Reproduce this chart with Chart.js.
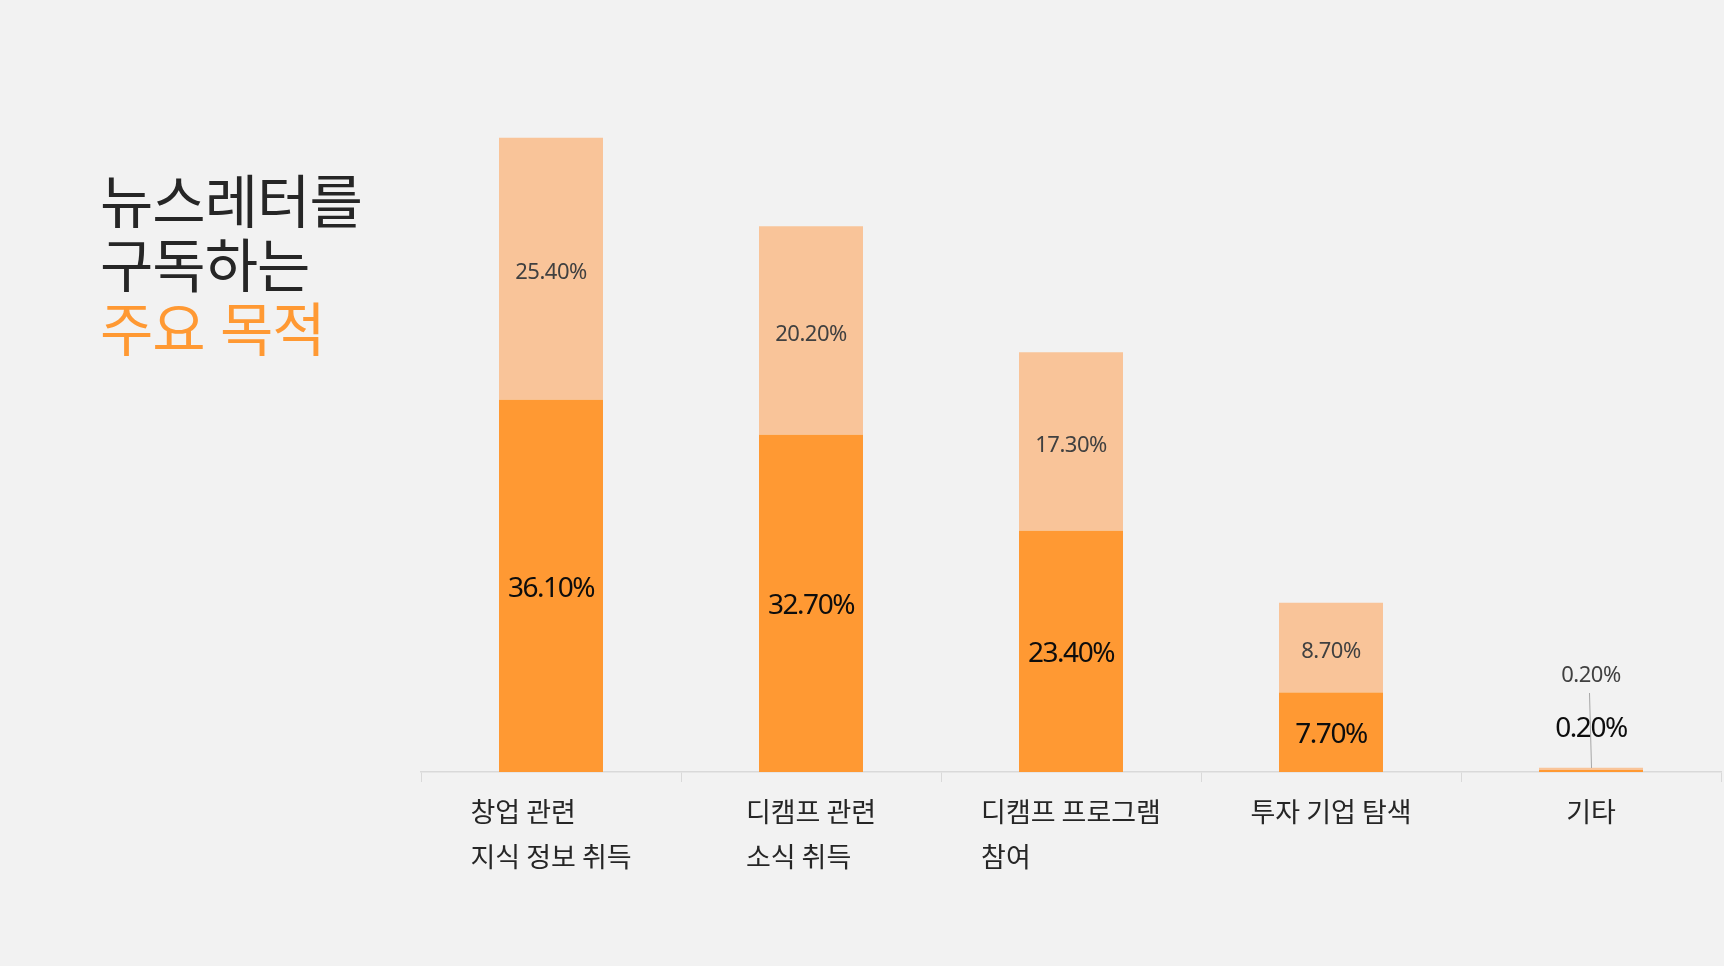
<!DOCTYPE html>
<html lang="ko">
<head>
<meta charset="utf-8">
<title>뉴스레터를 구독하는 주요 목적</title>
<script src="https://cdn.jsdelivr.net/npm/chart.js@4.4.1/dist/chart.umd.min.js"></script>
<style>
    html, body {
        margin: 0;
        padding: 0;
        background: #f2f2f2;
        overflow: hidden;
    }
    #wrap {
        position: absolute;
        left: 0;
        top: 0;
        width: 1724px;
        height: 966px;
    }
    #title {
        position: absolute;
        left: 100px;
        top: 166px;
        font-family: "Noto Sans CJK KR", sans-serif;
        font-size: 58px;
        line-height: 64px;
        letter-spacing: -1px;
        color: #262626;
        z-index: 2;
    }
    #title .accent {
        color: #ff9933;
    }
</style>
</head>
<body>
<div id="wrap">
    <canvas id="purposeChart"></canvas>
</div>
<div id="title">뉴스레터를<br>구독하는<br><span class="accent">주요 목적</span></div>

<script>
// Данные графика
const categories = [
    ['창업 관련', '지식 정보 취득'],
    ['디캠프 관련', '소식 취득'],
    ['디캠프 프로그램', '참여'],
    ['투자 기업 탐색'],
    ['기타']
];
const firstValues = [36.1, 32.7, 23.4, 7.7, 0.2];
const secondValues = [25.4, 20.2, 17.3, 8.7, 0.2];
const seriesNames = ['1순위', '2순위'];

const DARK = '#ff9933';
const LIGHT = '#f9c499';

// Подписи значений внутри/над столбцами
const valueLabels = {
    id: 'valueLabels',
    afterDatasetsDraw(chart) {
        const ctx = chart.ctx;
        const metas = [chart.getDatasetMeta(0), chart.getDatasetMeta(1)];
        const base = chart.scales.y.getPixelForValue(0);

        ctx.save();
        ctx.textAlign = 'center';
        ctx.textBaseline = 'middle';

        metas.forEach((meta, di) => {
            const values = chart.data.datasets[di].data;
            meta.data.forEach((bar, i) => {
                const h = Math.abs(bar.base - bar.y);
                const text = values[i].toFixed(2) + '%';
                let y = (bar.y + bar.base) / 2 + (di === 0 ? 3 : 4);

                // слишком маленький столбец - подпись выносим наверх
                if (h < 30) {
                    y = di === 0 ? base - 43 : base - 96;
                    if (di === 1) {
                        ctx.strokeStyle = '#a6a6a6';
                        ctx.lineWidth = 1;
                        ctx.beginPath();
                        ctx.moveTo(bar.x - 1.5, base - 79);
                        ctx.lineTo(bar.x + 0.5, base - 4);
                        ctx.stroke();
                    }
                }

                if (di === 0) {
                    ctx.font = '28px "Noto Sans", sans-serif';
                    ctx.letterSpacing = '-1.5px';
                    ctx.fillStyle = '#0d0d0d';
                } else {
                    ctx.font = '22px "Noto Sans", sans-serif';
                    ctx.letterSpacing = '-0.5px';
                    ctx.fillStyle = '#404040';
                }
                ctx.fillText(text, bar.x, y);
            });
        });
        ctx.restore();
    }
};

// Подписи категорий: блок по центру, строки выровнены влево
const categoryLabels = {
    id: 'categoryLabels',
    afterDraw(chart) {
        const ctx = chart.ctx;
        const xScale = chart.scales.x;
        ctx.save();
        ctx.font = '27px "Noto Sans CJK KR", sans-serif';
        ctx.fillStyle = '#262626';
        ctx.textAlign = 'left';
        ctx.textBaseline = 'middle';

        categories.forEach((lines, i) => {
            const cx = xScale.getPixelForValue(i);
            const maxW = Math.max(...lines.map(l => ctx.measureText(l).width));
            const left = cx - maxW / 2;
            lines.forEach((line, li) => {
                ctx.fillText(line, left, xScale.bottom - 154 + li * 45);
            });
        });
        ctx.restore();
    }
};

function initChart() {
    const ctx = document.getElementById('purposeChart').getContext('2d');

    new Chart(ctx, {
        type: 'bar',
        data: {
            labels: categories.map(c => c.join(' ')),
            datasets: [{
                label: seriesNames[0],
                data: firstValues,
                backgroundColor: DARK,
                borderWidth: 0,
                barPercentage: 0.4,
                categoryPercentage: 1.0
            }, {
                label: seriesNames[1],
                data: secondValues,
                backgroundColor: LIGHT,
                borderWidth: 0,
                barPercentage: 0.4,
                categoryPercentage: 1.0
            }]
        },
        options: {
            responsive: true,
            maintainAspectRatio: false,
            animation: false,
            layout: {
                padding: { left: 421, right: 3, top: 50, bottom: 0 }
            },
            scales: {
                x: {
                    stacked: true,
                    border: {
                        display: true,
                        color: '#d9d9d9',
                        width: 1.5
                    },
                    grid: {
                        display: true,
                        offset: true,
                        drawOnChartArea: false,
                        drawTicks: true,
                        tickLength: 10,
                        color: '#d9d9d9',
                        lineWidth: 1
                    },
                    ticks: { display: false },
                    afterFit(scale) {
                        scale.height = 194;
                    }
                },
                y: {
                    stacked: true,
                    display: false,
                    min: 0,
                    max: 70
                }
            },
            plugins: {
                legend: { display: false },
                tooltip: { enabled: false }
            }
        },
        plugins: [valueLabels, categoryLabels]
    });
}

document.addEventListener('DOMContentLoaded', function() {
    initChart();
});
</script>
</body>
</html>
